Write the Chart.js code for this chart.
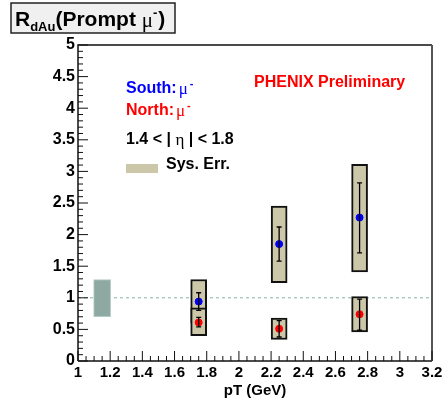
<!DOCTYPE html>
<html>
<head>
<meta charset="utf-8">
<script src="https://cdn.jsdelivr.net/npm/chart.js@4"></script>
<style>
  html, body { margin: 0; padding: 0; background: #fff; }
  #wrap { width: 446px; height: 405px; position: relative; }
</style>
</head>
<body>
<div id="wrap"><canvas id="c" width="446" height="405"></canvas></div>
<script>
// pT bins
var pt = [1.75, 2.25, 2.75];

// South mu-
var southVal = [0.94, 1.85, 2.27];
var southStatLo = [0.80, 1.58, 1.71];
var southStatHi = [1.08, 2.12, 2.82];
var southSysLo = [0.60, 1.24, 1.41];
var southSysHi = [1.29, 2.45, 3.11];

// North mu-
var northVal = [0.61, 0.51, 0.74];
var northStatLo = [0.54, 0.38, 0.49];
var northStatHi = [0.69, 0.64, 0.98];
var northSysLo = [0.40, 0.34, 0.46];
var northSysHi = [0.84, 0.68, 1.02];

// global normalisation box
var normPt = [1.15];
var normLo = [0.70];
var normHi = [1.29];

var xTicks = [1, 1.2, 1.4, 1.6, 1.8, 2, 2.2, 2.4, 2.6, 2.8, 3, 3.2];
var xTickLabels = ['1', '1.2', '1.4', '1.6', '1.8', '2', '2.2', '2.4', '2.6', '2.8', '3', '3.2'];
var yTicks = [0, 0.5, 1, 1.5, 2, 2.5, 3, 3.5, 4, 4.5, 5];
var yTickLabels = ['0', '0.5', '1', '1.5', '2', '2.5', '3', '3.5', '4', '4.5', '5'];

var sysColor = '#cdc7a9';
var boldFont = '"Liberation Sans", Arial, sans-serif';

function boxes(lo, hi) {
    return pt.map(function(p, i) { return { x: p, y: [lo[i], hi[i]] }; });
}
function points(v) {
    return pt.map(function(p, i) { return { x: p, y: v[i] }; });
}

var errorBars = {
    id: 'errorBars',
    afterDatasetsDraw: function(chart) {
        var ctx = chart.ctx, xs = chart.scales.x, ys = chart.scales.y;
        var sets = [[southStatLo, southStatHi], [northStatLo, northStatHi]];
        ctx.save();
        ctx.strokeStyle = '#000';
        ctx.lineWidth = 1.3;
        sets.forEach(function(s) {
            pt.forEach(function(p, i) {
                var x = xs.getPixelForValue(p);
                var y1 = ys.getPixelForValue(s[0][i]);
                var y2 = ys.getPixelForValue(s[1][i]);
                ctx.beginPath();
                ctx.moveTo(x, y1); ctx.lineTo(x, y2);
                ctx.moveTo(x - 2.5, y1); ctx.lineTo(x + 2.5, y1);
                ctx.moveTo(x - 2.5, y2); ctx.lineTo(x + 2.5, y2);
                ctx.stroke();
            });
        });
        ctx.restore();
    }
};

// ROOT-like frame with inward ticks, legend text and title box
var decorations = {
    id: 'decorations',
    afterDraw: function(chart) {
        var ctx = chart.ctx, a = chart.chartArea;
        var xs = chart.scales.x, ys = chart.scales.y;
        ctx.save();
        // frame
        ctx.lineWidth = 1.5;
        ctx.strokeStyle = '#111';
        ctx.beginPath();
        ctx.moveTo(a.left, a.bottom); ctx.lineTo(a.left, a.top); ctx.lineTo(a.right, a.top);
        ctx.moveTo(a.left, a.bottom); ctx.lineTo(a.right, a.bottom);
        ctx.stroke();
        ctx.strokeStyle = '#555';
        ctx.lineWidth = 2;
        ctx.beginPath();
        ctx.moveTo(a.right, a.top); ctx.lineTo(a.right, a.bottom);
        ctx.stroke();

        // ticks
        ctx.strokeStyle = '#111';
        ctx.lineWidth = 1;
        ctx.beginPath();
        for (var k = 0; k <= 50; k++) {
            var y = ys.getPixelForValue(k * 0.1);
            var len = (k % 5 === 0) ? 10 : 5;
            ctx.moveTo(a.left, y); ctx.lineTo(a.left + len, y);
        }
        for (var j = 0; j <= 44; j++) {
            var x = xs.getPixelForValue(1 + j * 0.05);
            var l2 = (j % 4 === 0) ? 10 : 5;
            ctx.moveTo(x, a.bottom); ctx.lineTo(x, a.bottom - l2);
        }
        ctx.stroke();

        // texts
        ctx.textBaseline = 'middle';
        ctx.textAlign = 'left';
        ctx.font = 'bold 16px ' + boldFont;
        ctx.fillStyle = '#ff0000';
        ctx.fillText('PHENIX Preliminary', 254, 83);

        function muLabel(txt, color, x, y) {
            ctx.font = 'bold 16px ' + boldFont;
            ctx.fillStyle = color;
            ctx.fillText(txt, x, y);
            var w = ctx.measureText(txt).width;
            ctx.font = '17px "Liberation Serif", serif';
            ctx.fillText('\u03bc', x + w + 2, y + 1);
            var w2 = ctx.measureText('\u03bc').width;
            ctx.font = 'bold 11px ' + boldFont;
            ctx.fillText('-', x + w + w2 + 4, y - 5);
        }
        muLabel('South:', '#0000ff', 126, 89);
        muLabel('North:', '#ff0000', 126, 111);

        ctx.font = 'bold 16px ' + boldFont;
        ctx.fillStyle = '#000';
        ctx.fillText('1.4 < | ', 126, 140);
        var w3 = ctx.measureText('1.4 < | ').width;
        ctx.font = '17px "Liberation Serif", serif';
        ctx.fillText('\u03b7', 126 + w3, 141);
        var w4 = ctx.measureText('\u03b7').width;
        ctx.font = 'bold 16px ' + boldFont;
        ctx.fillText(' | < 1.8', 126 + w3 + w4, 140);

        ctx.fillStyle = sysColor;
        ctx.fillRect(126, 164, 32, 9);
        ctx.fillStyle = '#000';
        ctx.fillText('Sys. Err.', 166, 165);

        // title box
        ctx.fillStyle = '#f0f0f0';
        ctx.fillRect(11, 3, 164, 30);
        ctx.strokeStyle = '#222';
        ctx.lineWidth = 1.5;
        ctx.strokeRect(11, 3, 164, 30);
        ctx.fillStyle = '#000';
        ctx.textBaseline = 'alphabetic';
        ctx.font = 'bold 21px ' + boldFont;
        ctx.fillText('R', 15, 26);
        var tx = 15 + ctx.measureText('R').width;
        ctx.font = 'bold 13px ' + boldFont;
        ctx.fillText('dAu', tx, 31);
        tx += ctx.measureText('dAu').width;
        ctx.font = 'bold 21px ' + boldFont;
        ctx.fillText('(Prompt ', tx, 26);
        tx += ctx.measureText('(Prompt ').width;
        ctx.font = '21px "Liberation Serif", serif';
        ctx.fillText('\u03bc', tx, 27);
        tx += ctx.measureText('\u03bc').width;
        ctx.font = 'bold 13px ' + boldFont;
        ctx.fillText('-', tx, 17);
        tx += ctx.measureText('-').width + 1;
        ctx.font = 'bold 21px ' + boldFont;
        ctx.fillText(')', tx, 26);
        ctx.restore();
    }
};

new Chart(document.getElementById('c'), {
    type: 'bar',
    data: {
        datasets: [{
            type: 'line',
            data: [{ x: 1, y: 1 }, { x: 3.2, y: 1 }],
            borderColor: '#86b4aa',
            borderWidth: 1,
            borderDash: [3, 3],
            pointRadius: 0,
            order: 10
        }, {
            data: normPt.map(function(p, i) { return { x: p, y: [normLo[i], normHi[i]] }; }),
            backgroundColor: '#8da9a1',
            borderColor: '#b5cbc4',
            borderWidth: 1,
            borderSkipped: false,
            barThickness: 17,
            order: 9
        }, {
            data: boxes(southSysLo, southSysHi),
            backgroundColor: sysColor,
            borderColor: '#111',
            borderWidth: 2,
            borderSkipped: false,
            barThickness: 16,
            order: 8
        }, {
            data: boxes(northSysLo, northSysHi),
            backgroundColor: sysColor,
            borderColor: '#111',
            borderWidth: 2,
            borderSkipped: false,
            barThickness: 16,
            order: 7
        }, {
            type: 'scatter',
            data: points(southVal),
            backgroundColor: '#0000ff',
            borderColor: '#0000ff',
            pointRadius: 3.5,
            order: 2
        }, {
            type: 'scatter',
            data: points(northVal),
            backgroundColor: '#ff0000',
            borderColor: '#ff0000',
            pointRadius: 3.5,
            order: 1
        }]
    },
    options: {
        responsive: false,
        animation: false,
        layout: {
            padding: { left: 0, right: 14, top: 45, bottom: 0 }
        },
        plugins: {
            legend: { display: false },
            tooltip: { enabled: false },
            title: { display: false }
        },
        datasets: {
            bar: { grouped: false }
        },
        scales: {
            x: {
                type: 'linear',
                min: 1,
                max: 3.2,
                offset: false,
                afterFit: function(scale) { scale.height = 44; },
                afterBuildTicks: function(scale) {
                    scale.ticks = xTicks.map(function(v) { return { value: v }; });
                },
                grid: { display: false, drawTicks: false, tickLength: 0 },
                border: { display: false },
                ticks: {
                    color: '#000',
                    padding: 3,
                    maxRotation: 0,
                    autoSkip: false,
                    font: { family: boldFont, size: 15, weight: 'bold' },
                    callback: function(v, i) { return xTickLabels[i]; }
                },
                title: {
                    display: true,
                    text: 'pT (GeV)',
                    color: '#000',
                    padding: { top: 0, bottom: 5 },
                    font: { family: boldFont, size: 15, weight: 'bold' }
                }
            },
            y: {
                min: 0,
                max: 5,
                afterFit: function(scale) { scale.width = 78; },
                afterBuildTicks: function(scale) {
                    scale.ticks = yTicks.map(function(v) { return { value: v }; });
                },
                grid: { display: false, drawTicks: false, tickLength: 0 },
                border: { display: false },
                ticks: {
                    color: '#000',
                    padding: 3,
                    autoSkip: false,
                    font: { family: boldFont, size: 16, weight: 'bold' },
                    callback: function(v, i) { return yTickLabels[i]; }
                }
            }
        }
    },
    plugins: [errorBars, decorations]
});
</script>
</body>
</html>
